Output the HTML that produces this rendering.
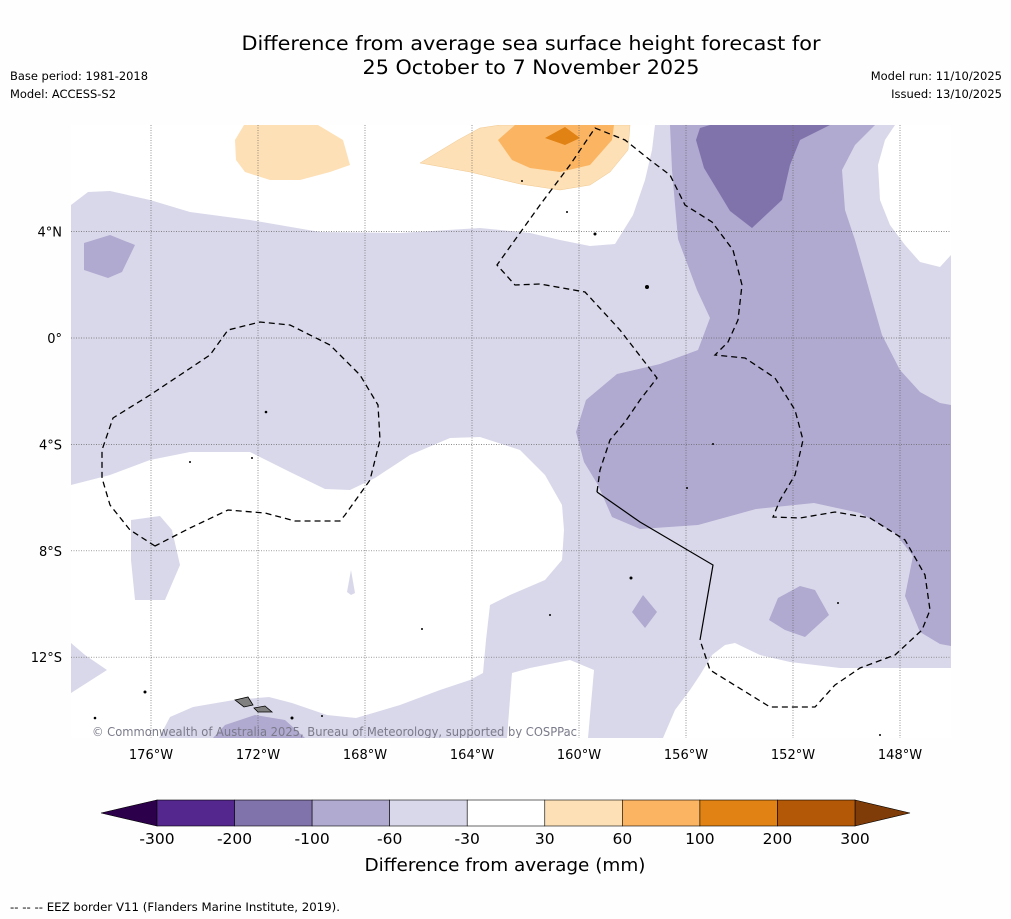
<!DOCTYPE html>
<html><head><meta charset="utf-8"><style>
body{margin:0;background:#fff;width:1011px;height:919px;overflow:hidden;font-family:"DejaVu Sans","Liberation Sans",sans-serif}
svg{display:block;font-family:"DejaVu Sans","Liberation Sans",sans-serif}
</style></head><body>
<svg id="chart" width="1011" height="919" viewBox="0 0 1011 919" xmlns="http://www.w3.org/2000/svg">
<rect width="1011" height="919" fill="#fefefe"/>
<text x="531" y="50" font-size="19.5" text-anchor="middle" fill="#000" textLength="579" lengthAdjust="spacingAndGlyphs">Difference from average sea surface height forecast for</text>
<text x="531" y="74" font-size="19.5" text-anchor="middle" fill="#000" textLength="337" lengthAdjust="spacingAndGlyphs">25 October to 7 November 2025</text>
<text x="10" y="80" font-size="11.5" textLength="138" lengthAdjust="spacingAndGlyphs">Base period: 1981-2018</text>
<text x="10" y="98" font-size="11.5" textLength="106" lengthAdjust="spacingAndGlyphs">Model: ACCESS-S2</text>
<text x="1002" y="80" font-size="11.5" text-anchor="end">Model run: 11/10/2025</text>
<text x="1002" y="98" font-size="11.5" text-anchor="end">Issued: 13/10/2025</text>

<defs><clipPath id="mapclip"><rect x="71" y="125" width="880" height="613"/></clipPath></defs>
<g id="map" clip-path="url(#mapclip)">
<rect x="71" y="125" width="880" height="613" fill="#d9d8ea"/>
<polygon fill="#fff" points="71,125 71,205 88,192 110,191 150,200 190,212 250,220 320,232 400,233 480,228 530,233 560,240 590,246 615,244 633,215 645,180 652,150 655,125"/>
<polygon fill="#fff" points="895,125 951,125 951,255 940,267 920,262 905,245 890,225 880,200 878,165 885,140"/>
<polygon fill="#fff" points="71,485 110,475 150,460 190,452 250,452 290,472 325,489 350,490 375,478 410,455 450,438 480,437 520,450 545,475 562,505 564,530 562,560 545,580 510,595 490,605 486,640 483,673 470,680 440,690 400,705 356,718 327,715 292,703 269,697 234,700 193,707 170,717 159,738 71,738"/>
<polygon fill="#fff" points="512,673 530,668 570,660 594,670 588,738 507,738"/>
<polygon fill="#fff" points="663,738 675,710 690,690 700,675 712,655 725,645 735,643 760,655 790,662 840,668 900,668 951,668 951,738"/>
<polygon fill="#d9d8ea" points="71,643 85,655 107,670 71,693"/>
<polygon fill="#d9d8ea" points="131,520 160,516 172,530 180,565 165,600 135,600 131,560"/>
<polygon fill="#d9d8ea" points="347,592 351,570 355,593 351,595"/>
<polygon fill="#b0a9d0" points="670,125 672,170 678,239 697,290 710,318 698,350 660,364 617,374 586,400 576,432 584,462 598,485 612,517 640,529 698,525 756,509 814,503 860,513 895,533 913,556 905,596 920,632 940,644 951,646 951,405 940,403 920,392 900,370 882,335 872,300 865,275 855,240 845,210 842,170 855,145 875,125"/>
<polygon fill="#b0a9d0" points="84,243 110,235 135,245 122,272 108,278 84,270"/>
<polygon fill="#b0a9d0" points="632,612 643,595 657,612 645,628"/>
<polygon fill="#b0a9d0" points="769,620 778,598 800,586 815,590 829,615 805,637 785,630"/>
<polygon fill="#b0a9d0" points="213,738 225,725 255,715 285,720 305,738"/>
<polygon fill="#8073ac" points="700,128 710,125 830,125 800,140 790,165 782,200 752,228 730,211 704,168 696,140"/>
<polygon fill="#fde0b6" points="244,125 318,125 343,140 350,165 330,172 300,180 270,180 245,172 236,160 235,140"/>
<polygon fill="#fde0b6" stroke="#f0c890" stroke-width="0.5" points="420,163 458,140 480,128 500,125 630,125 628,150 610,172 590,185 560,190 520,184 470,172"/>
<polygon fill="#fbb562" points="498,140 515,125 614,125 612,140 590,165 560,172 530,168 512,160"/>
<polygon fill="#e08214" points="545,138 565,127 580,138 565,145"/>
<g id="grid" stroke="#666" stroke-width="0.7" stroke-dasharray="1,1.5"></g>
<g fill="none" stroke="#000" stroke-width="1.3" stroke-dasharray="6,4">
<polyline points="155,546 130,530 110,505 102,478 102,450 113,418 150,395 210,355 228,330 260,322 290,325 330,345 360,375 378,405 380,440 370,480 345,515 340,521 295,521 265,513 228,510 190,528 155,546"/>
<polyline points="597,492 600,470 610,440 625,422 640,400 657,378 620,330 585,292 540,284 515,285 497,265 540,205 570,165 595,128 625,140 650,160 670,175 685,205 712,222 733,250 742,285 738,320 728,342 715,355 745,358 775,378 795,410 803,440 795,475 780,500 773,517 800,518 835,512 870,518 905,540 925,575 930,610 922,630 895,655 860,668 835,685 815,707 770,707 710,670 700,640"/>
</g>
<polyline fill="none" stroke="#000" stroke-width="1.2" points="597,492 640,522 713,565 700,640"/>
<g fill="#000">
<circle cx="595" cy="234" r="1.5"/><circle cx="647" cy="287" r="2"/><circle cx="266" cy="412" r="1.3"/><circle cx="252" cy="458" r="1"/><circle cx="190" cy="462" r="1"/><circle cx="713" cy="444" r="1"/><circle cx="687" cy="488" r="1"/><circle cx="631" cy="578" r="1.5"/><circle cx="550" cy="615" r="1"/><circle cx="422" cy="629" r="1"/><circle cx="145" cy="692" r="1.5"/><circle cx="95" cy="718" r="1.3"/><circle cx="292" cy="718" r="1.5"/><circle cx="322" cy="716" r="1"/><circle cx="522" cy="181" r="1"/><circle cx="567" cy="212" r="1"/><circle cx="838" cy="603" r="1"/><circle cx="880" cy="735" r="1"/>
</g>
<polygon fill="#808080" stroke="#000" stroke-width="0.8" points="235,700 248,697 253,705 244,707"/>
<polygon fill="#808080" stroke="#000" stroke-width="0.8" points="254,708 265,706 272,712 258,712"/>
<text x="92" y="736" font-size="12" fill="#7a7a8a" textLength="485" lengthAdjust="spacingAndGlyphs">© Commonwealth of Australia 2025, Bureau of Meteorology, supported by COSPPac</text>
</g>
<g id="axes"></g>
<g id="colorbar"></g>
<text x="505" y="871" font-size="17.5" text-anchor="middle" textLength="281" lengthAdjust="spacingAndGlyphs">Difference from average (mm)</text>
<text x="10" y="911" font-size="11.5" textLength="330" lengthAdjust="spacingAndGlyphs">--  --  -- EEZ border V11 (Flanders Marine Institute, 2019).</text>
</svg>
<script>
const lonTicks=[-176,-172,-168,-164,-160,-156,-152,-148];
const lonLabels=["176°W","172°W","168°W","164°W","160°W","156°W","152°W","148°W"];
const latTicks=[4,0,-4,-8,-12];
const latLabels=["4°N","0°","4°S","8°S","12°S"];
const levels=[-300,-200,-100,-60,-30,30,60,100,200,300];
const levelColors=["#54278f","#8073ac","#b0a9d0","#d9d8ea","#ffffff","#fde0b6","#fbb562","#e08214","#b35806"];
const NS="http://www.w3.org/2000/svg";
const xLon=l=>151+(l+176)*26.75;
const yLat=l=>338-l*26.6;
const grid=document.getElementById('grid'), axes=document.getElementById('axes'), cb=document.getElementById('colorbar');
function mk(tag,attrs,parent){const e=document.createElementNS(NS,tag);for(const k in attrs)e.setAttribute(k,attrs[k]);parent.appendChild(e);return e;}
lonTicks.forEach((l,i)=>{
  const ln=mk('line',{x1:xLon(l),x2:xLon(l),y1:125,y2:738},grid);
  
  
  const t=mk('text',{x:xLon(l),y:759,'font-size':13,'text-anchor':'middle'},axes);
  t.textContent=lonLabels[i];
  
  
});
latTicks.forEach((l,i)=>{
  const ln=mk('line',{x1:71,x2:951,y1:yLat(l),y2:yLat(l)},grid);
  
  
  const t=mk('text',{x:62,y:yLat(l)+5,'font-size':13,'text-anchor':'end'},axes);
  t.textContent=latLabels[i];
  
  
});
const cbX0=157,cbX1=855,cbY=800,cbH=26,n=levelColors.length,w=(cbX1-cbX0)/n;
const lt=mk('polygon',{points:`101,813 ${cbX0},${cbY} ${cbX0},${cbY+cbH}`,fill:'#2d004b',stroke:'#000','stroke-width':0.6},cb);


const rt=mk('polygon',{points:`910,813 ${cbX1},${cbY} ${cbX1},${cbY+cbH}`,fill:'#7f3b08',stroke:'#000','stroke-width':0.6},cb);


levelColors.forEach((c,i)=>{
  const r=mk('rect',{x:cbX0+i*w,y:cbY,width:w,height:cbH,fill:c,stroke:'#000','stroke-width':0.6},cb);
  
  
});
levels.forEach((v,i)=>{
  const t=mk('text',{x:cbX0+i*w,y:844,'font-size':15.5,'text-anchor':'middle'},cb);
  t.textContent=v;
  
  
});
</script>
</body></html>
